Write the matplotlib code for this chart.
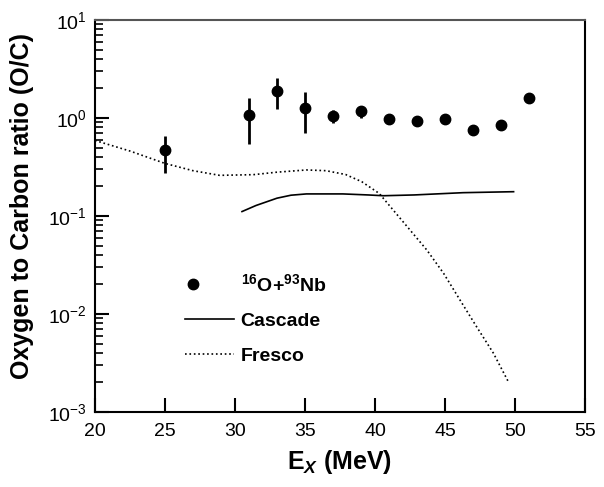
import matplotlib
matplotlib.use("Agg")
import matplotlib.pyplot as plt
import numpy as np
from matplotlib.ticker import LogLocator, FixedLocator, NullLocator
from matplotlib.lines import Line2D
from matplotlib.legend_handler import HandlerLine2D

plt.rcParams['font.family'] = ['Liberation Sans', 'DejaVu Sans']
plt.rcParams['mathtext.fontset'] = 'custom'
plt.rcParams['mathtext.rm'] = 'Liberation Sans'
plt.rcParams['mathtext.bf'] = 'Liberation Sans:bold'
plt.rcParams['mathtext.it'] = 'Liberation Sans:bold:italic'

# Data: 16O+93Nb measured O/C ratio
ex = [25, 31, 33, 35, 37, 39, 41, 43, 45, 47, 49, 51]
ratio = [0.47, 1.07, 1.88, 1.26, 1.05, 1.18, 0.98, 0.94, 0.97, 0.75, 0.855, 1.60]
err_hi = [0.66, 1.59, 2.54, 1.83, 1.21, 1.34, 0.98, 0.94, 0.97, 0.75, 0.855, 1.60]
err_lo = [0.275, 0.54, 1.23, 0.70, 0.88, 0.99, 0.98, 0.94, 0.97, 0.75, 0.855, 1.60]

# Cascade calculation
cas_e = [30.5, 31.5, 33.0, 34.0, 35.1, 37.7, 39.5, 40.6, 42.8, 46.3, 49.9]
cas_r = [0.111, 0.128, 0.152, 0.163, 0.168, 0.168, 0.164, 0.161, 0.164, 0.173, 0.177]

# Fresco calculation
fr_e = [20.0, 22.5, 25.0, 27.0, 28.9, 31.3, 33.0, 35.1, 36.5, 37.9, 39.05, 40.3, 41.3,
        42.5, 43.7, 44.9, 46.07, 47.26, 48.45, 49.52]
fr_r = [0.59, 0.46, 0.344, 0.29, 0.26, 0.264, 0.28, 0.295, 0.29, 0.265, 0.224, 0.17, 0.115,
        0.072, 0.045, 0.026, 0.0139, 0.0074, 0.0040, 0.00204]


class LeftMarkerHandler(HandlerLine2D):
    def get_xdata(self, legend, xdescent, ydescent, width, height, fontsize):
        x = [-xdescent + 0.17 * width]
        return x, x


fig = plt.figure(figsize=(6.04, 4.87), dpi=100)
ax = fig.add_axes([95/604, 1-412/487, 490/604, 392/487])

yerr = [np.array(ratio) - np.array(err_lo), np.array(err_hi) - np.array(ratio)]
ax.errorbar(ex, ratio, yerr=yerr, fmt='o', color='black', ms=7.5, elinewidth=2,
            capsize=0)
l_cas, = ax.plot(cas_e, cas_r, '-', color='black', lw=1.2)
l_fr, = ax.plot(fr_e, fr_r, ':', color='black', lw=1.2)

ax.set_yscale('log')
ax.set_xlim(20, 55)
ax.set_ylim(1e-3, 10)
ax.xaxis.set_major_locator(FixedLocator([20, 25, 30, 35, 40, 45, 50, 55]))
ax.xaxis.set_minor_locator(NullLocator())
ax.yaxis.set_major_locator(LogLocator(base=10, numticks=10))
ax.yaxis.set_minor_locator(LogLocator(base=10, subs=np.arange(2, 10), numticks=20))

ax.tick_params(axis='both', which='major', direction='in', length=10, width=1.5,
               labelsize=14, top=False, right=False, pad=8)
ax.tick_params(axis='y', which='minor', direction='in', length=6, width=1.2, right=False)
ax.tick_params(axis='y', which='major', pad=6)

for s in ['left', 'bottom', 'right']:
    ax.spines[s].set_linewidth(1.5)
ax.spines['top'].set_linewidth(1.5)
ax.spines['top'].set_color('#555555')

ax.set_xlabel(r'E$_{\mathit{X}}$ (MeV)', fontsize=18, fontweight='bold', labelpad=6)
ax.set_ylabel('Oxygen to Carbon ratio (O/C)', fontsize=18, fontweight='bold', labelpad=4)
ax.yaxis.set_label_coords(-0.125, 0.525)

proxy = Line2D([], [], marker='o', color='black', ls='none', ms=7.5)
leg = ax.legend([proxy, l_cas, l_fr],
                [r'$\mathbf{^{16}O{+}^{93}Nb}$', 'Cascade', 'Fresco'],
                handler_map={proxy: LeftMarkerHandler(numpoints=2)},
                loc='upper left', bbox_to_anchor=(0.168, 0.375), frameon=False,
                handlelength=2.5, handletextpad=0.36, labelspacing=0.9,
                borderaxespad=0, prop={'weight': 'bold', 'size': 14})

fig.savefig('out.png', dpi=100)
